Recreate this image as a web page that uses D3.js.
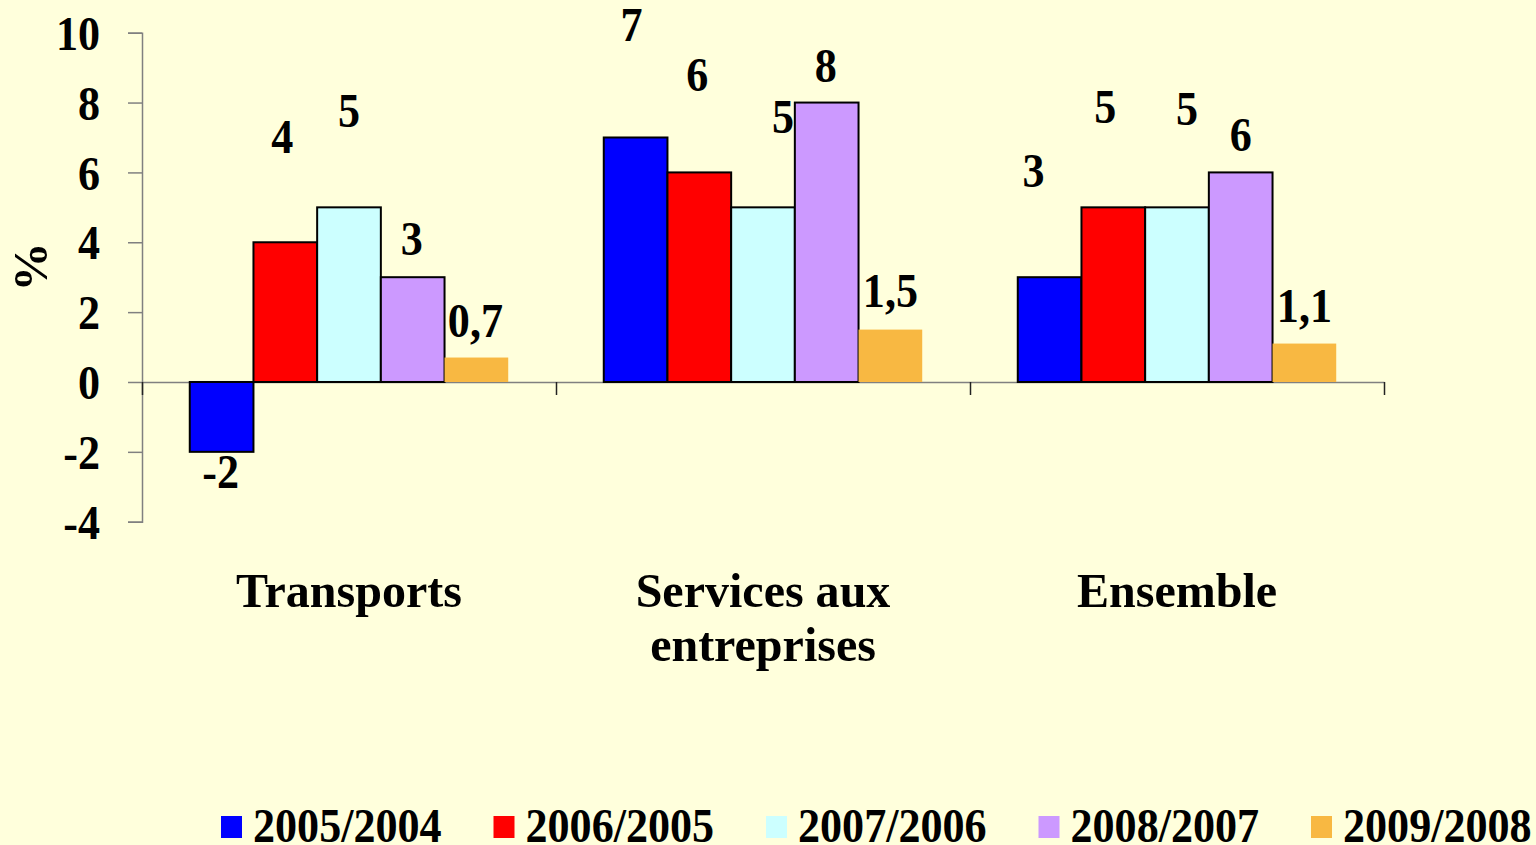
<!DOCTYPE html>
<html>
<head>
<meta charset="utf-8">
<script src="https://cdn.jsdelivr.net/npm/d3@7"></script>
<style>
    body { margin: 0; background: #FFFFDC; }
    svg { display: block; }
    text { font-family: "Liberation Serif", "Times New Roman", serif; font-weight: bold; fill: #000; }
</style>
</head>
<body>
<svg id="chart"></svg>
<script>
// data
const categories = ['Transports', 'Services aux\nentreprises', 'Ensemble'];
const series = ['2005/2004', '2006/2005', '2007/2006', '2008/2007', '2009/2008'];
const colors = ['#0000FF', '#FF0000', '#CCFFFF', '#CC99FF', '#F8B842'];
const v2005 = [-2, 7, 3];
const v2006 = [4, 6, 5];
const v2007 = [5, 5, 5];
const v2008 = [3, 8, 6];
const v2009 = [0.7, 1.5, 1.1];
const yTicks = [-4, -2, 0, 2, 4, 6, 8, 10];

// labels were hand placed in the original: [dx, distance from bar end]
const labelNudge = [
    [[-1, 36], [-4, 96], [-16, 90]],
    [[-3, 89], [-2, 81], [-8, 84]],
    [[0, 80], [20, 74], [10, 82]],
    [[-1, 22], [-1, 21], [0, 21]],
    [[-1, 21], [0, 23], [0, 22]]
];

const allValues = [v2005, v2006, v2007, v2008, v2009];
const rows = [];
series.forEach((s, si) => {
    categories.forEach((c, ci) => {
        rows.push({ series: s, cat: c, value: allValues[si][ci], si: si, ci: ci });
    });
});

const config = {
    width: 1536,
    height: 845,
    left: 142,
    right: 1384,
    top: 32.7,
    bottom: 521.7,
    fontSize: 49,
    squeeze: 0.9,
    catSqueeze: 0.98
};

const svg = d3.select('#chart')
    .attr('width', config.width)
    .attr('height', config.height);

// scales
const x0 = d3.scaleBand()
    .domain(categories)
    .range([config.left, config.right]);

const x1 = d3.scaleBand()
    .domain(series)
    .range([0, x0.bandwidth()])
    .paddingOuter(0.75);

const y = d3.scaleLinear()
    .domain([-4, 10])
    .range([config.bottom, config.top]);

const fmt = v => String(v).replace('.', ',');
const squeezed = (x, yy, s) => `translate(${x},${yy}) scale(${s || config.squeeze},1)`;

// y axis
const yAxisG = svg.append('g')
    .attr('transform', `translate(${config.left},0)`)
    .call(d3.axisLeft(y).tickValues(yTicks).tickSize(14).tickFormat(d => d));

yAxisG.select('.domain').attr('stroke', '#808080').attr('stroke-width', 1.5);
yAxisG.selectAll('.tick line').attr('stroke', '#808080').attr('stroke-width', 1.5);
yAxisG.selectAll('.tick text')
    .attr('x', null)
    .attr('dy', '0.34em')
    .attr('transform', squeezed(-42, 0))
    .style('font-size', config.fontSize + 'px');
yAxisG.attr('font-family', null).attr('font-size', null);

// x axis, ticks between categories
const xEdges = d3.scaleLinear().domain([0, categories.length]).range([config.left, config.right]);
const xAxisG = svg.append('g')
    .attr('transform', `translate(0,${y(0)})`)
    .call(d3.axisBottom(xEdges).tickValues(d3.range(categories.length + 1)).tickSize(13).tickSizeOuter(0).tickFormat(''));

xAxisG.select('.domain').attr('stroke', '#808080').attr('stroke-width', 1.5);
xAxisG.selectAll('.tick line').attr('stroke', '#222').attr('stroke-width', 1.5);

// bars
svg.append('g')
    .selectAll('rect')
    .data(rows)
    .join('rect')
    .attr('x', d => x0(d.cat) + x1(d.series))
    .attr('y', d => y(Math.max(0, d.value)))
    .attr('width', x1.bandwidth())
    .attr('height', d => Math.abs(y(d.value) - y(0)))
    .attr('fill', d => colors[d.si])
    .attr('stroke', d => d.si === 4 ? 'none' : '#000')
    .attr('stroke-width', 2);

// value labels
svg.append('g')
    .selectAll('text')
    .data(rows)
    .join('text')
    .attr('text-anchor', 'middle')
    .style('font-size', config.fontSize + 'px')
    .attr('transform', d => {
        const n = labelNudge[d.si][d.ci];
        const cx = x0(d.cat) + x1(d.series) + x1.bandwidth() / 2 + n[0];
        const cy = d.value >= 0 ? y(d.value) - n[1] : y(d.value) + n[1];
        return squeezed(cx, cy);
    })
    .text(d => fmt(d.value));

// category labels
const catG = svg.append('g')
    .selectAll('text')
    .data(categories)
    .join('text')
    .attr('text-anchor', 'middle')
    .style('font-size', config.fontSize + 'px')
    .attr('transform', d => squeezed(x0(d) + x0.bandwidth() / 2, 607, config.catSqueeze));

catG.selectAll('tspan')
    .data(d => d.split('\n'))
    .join('tspan')
    .attr('x', 0)
    .attr('y', (d, i) => i * 54)
    .text(d => d);

// axis title
svg.append('text')
    .attr('text-anchor', 'middle')
    .style('font-size', config.fontSize + 'px')
    .attr('transform', 'translate(47,267) rotate(-90)')
    .text('%');

// legend
const legendX = d3.scaleBand()
    .domain(series)
    .range([221, 221 + series.length * 272.5]);

const legend = svg.append('g')
    .selectAll('g')
    .data(series)
    .join('g')
    .attr('transform', d => `translate(${legendX(d)},0)`);

legend.append('rect')
    .attr('x', 0)
    .attr('y', 816)
    .attr('width', 21)
    .attr('height', 22)
    .attr('fill', (d, i) => colors[i]);

legend.append('text')
    .style('font-size', config.fontSize + 'px')
    .attr('transform', squeezed(32, 842))
    .text(d => d);
</script>
</body>
</html>
